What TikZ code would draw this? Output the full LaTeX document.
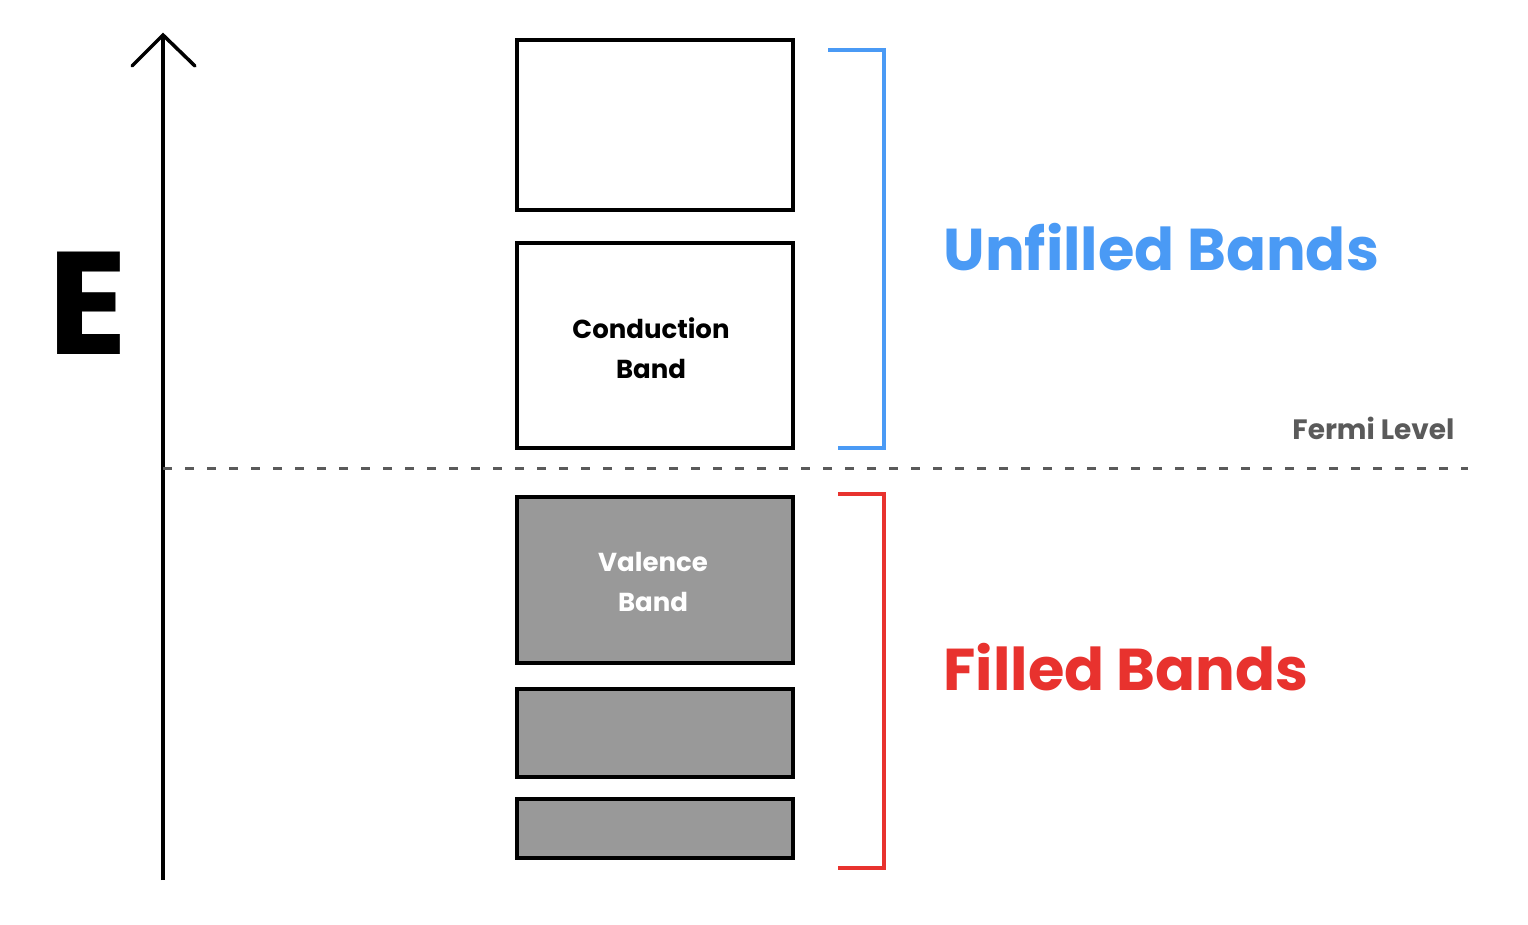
\documentclass[tikz,border=0pt]{standalone}
\usepackage{fontspec}
\setmainfont{Poppins}
\usetikzlibrary{arrows.meta}
\definecolor{bandgray}{HTML}{999999}
\definecolor{ublue}{HTML}{4A9AF5}
\definecolor{fred}{HTML}{E8322E}
\definecolor{fgray}{HTML}{5A5A5A}
\tikzset{
  band/.style={draw=black, line width=4pt, rectangle},
  bandtxt/.style={align=center, font=\fontsize{26}{40}\selectfont\bfseries},
  bracket/.style={line width=4pt},
}
\begin{document}
\begin{tikzpicture}[x=1pt,y=-1pt]
\useasboundingbox (0,0) rectangle (1528,924);
% axis
\coordinate (ab) at (163,880);
\coordinate (at) at (163,35);
\draw[line width=3.5pt] (ab) -- (at);
\draw[line width=3.5pt, line cap=round, line join=miter] (132,66) -- (at) -- (195,66);
\node[font=\fontsize{146}{146}\selectfont\bfseries] (E) at (88,303) {E};
% fermi line
\coordinate (f1) at (163,468);
\coordinate (f2) at (1468,468);
\draw[fgray, line width=3pt, dash pattern=on 9pt off 13pt] (f1) -- (f2);
\node[fgray, font=\fontsize{28}{30}\selectfont\bfseries, anchor=east] (fl) at (1458,428) {Fermi Level};
% bands
\draw[band, fill=white] (517,40) rectangle (793,210);
\node (b1) at (655,125) {};
\draw[band, fill=white] (517,243) rectangle (793,448);
\node[bandtxt] (cb) at (651,348) {Conduction\\Band};
\draw[band, fill=bandgray] (517,497) rectangle (793,663);
\node[bandtxt, text=white] (vb) at (653,582) {Valence\\Band};
\draw[band, fill=bandgray] (517,689) rectangle (793,777);
\draw[band, fill=bandgray] (517,799) rectangle (793,858);
% brackets
\draw[bracket, ublue] (828,50) -- (884,50) -- (884,448) -- (838,448);
\draw[bracket, fred] (838,494) -- (884,494) -- (884,868) -- (838,868);
\node[ublue, font=\fontsize{59}{64}\selectfont\bfseries, anchor=west] (ub) at (940,247) {Unfilled Bands};
\node[fred, font=\fontsize{59}{64}\selectfont\bfseries, anchor=west] (fb) at (940,667) {Filled Bands};
\end{tikzpicture}
\end{document}
